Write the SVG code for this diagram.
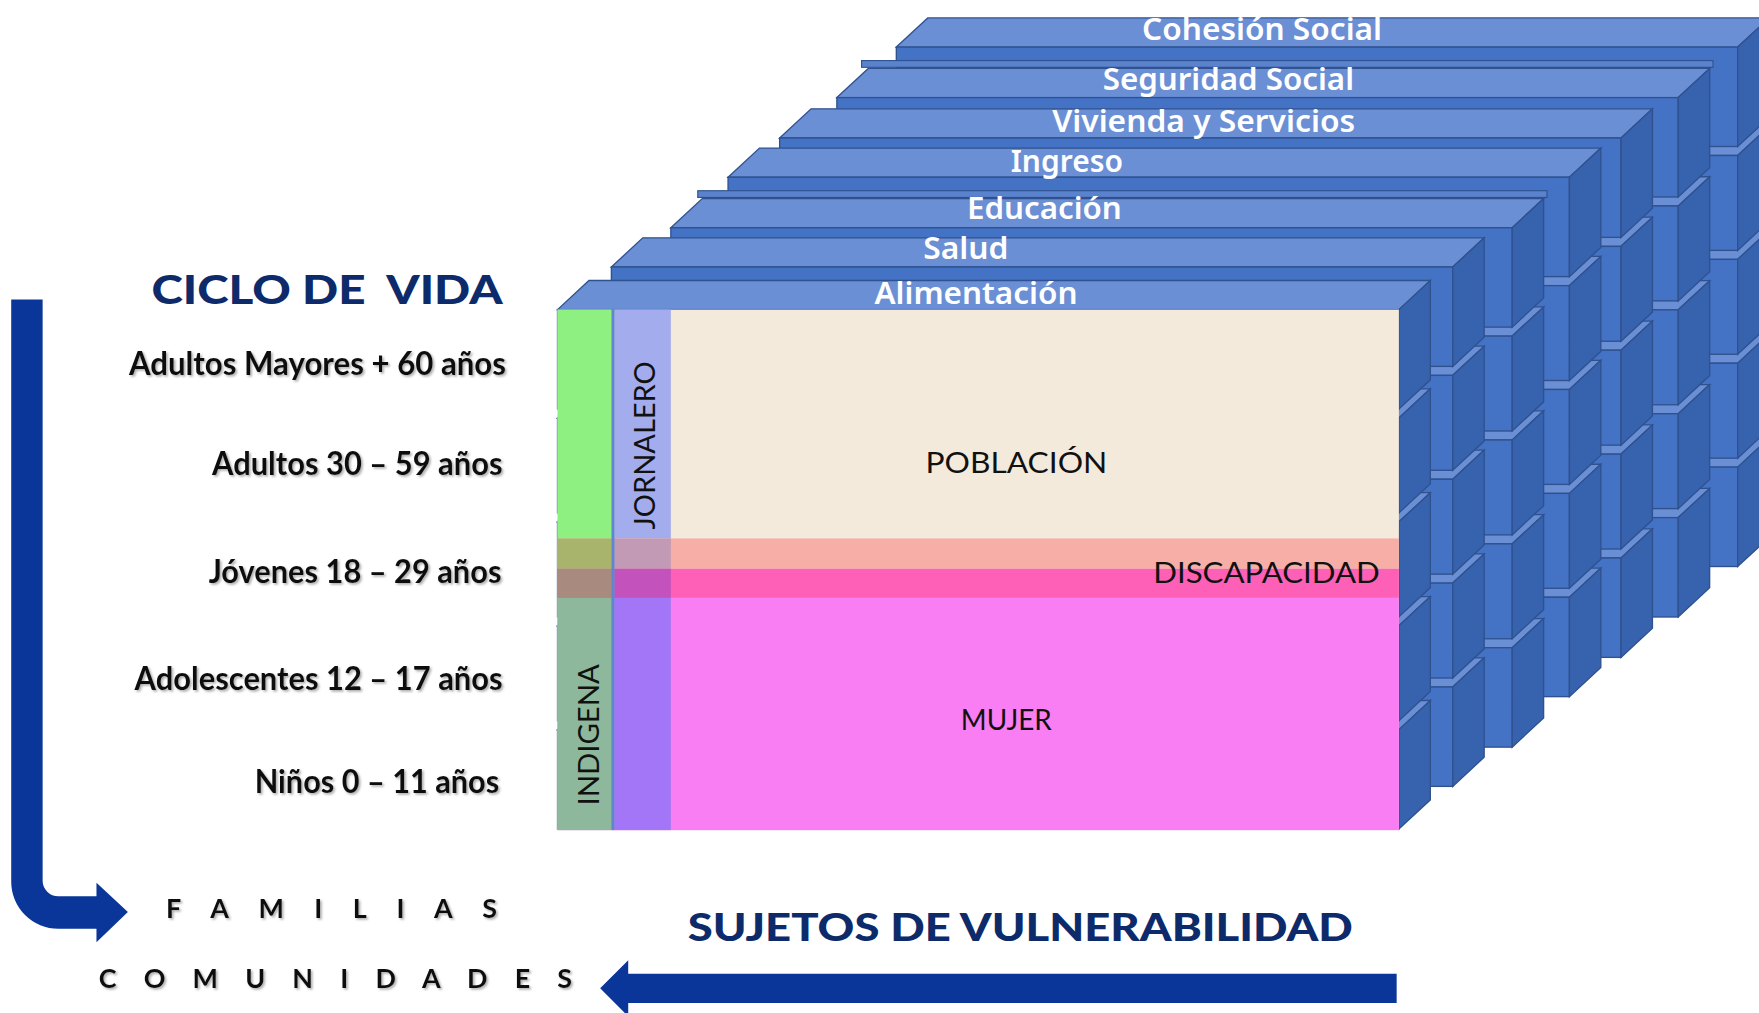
<svg xmlns="http://www.w3.org/2000/svg" width="1759" height="1013" viewBox="0 0 1759 1013">
<style>
.top{fill:#6b8fd4;stroke:#2f528f;stroke-width:1.2}
.front{fill:#4472c4;stroke:#2f528f;stroke-width:1.2}
.side{fill:#3762ad;stroke:#2f528f;stroke-width:1.2}
.ledge{fill:#5b82cc;stroke:#2f528f;stroke-width:1}
.tl{font-family:"Noto Sans","Open Sans",sans-serif;font-weight:600;font-size:28px;fill:#ffffff;text-anchor:middle}
.lbl{font-family:Lato,"Noto Sans",sans-serif;font-weight:700;font-size:29px;fill:#111111;text-anchor:end;filter:url(#sh)}
.face{font-family:Lato,"Noto Sans",sans-serif;font-weight:400;font-size:26px;fill:#111111}
.title{font-family:Lato,"Noto Sans",sans-serif;font-weight:900;fill:#0d2b6b}
.sp{font-family:Lato,"Noto Sans",sans-serif;font-weight:700;font-size:24px;fill:#111111;filter:url(#sh)}
.arrow{fill:#0a3699}
</style>
<defs>
<filter id="sh" x="-5%" y="-20%" width="110%" height="150%">
<feDropShadow dx="1.5" dy="1.5" stdDeviation="1" flood-color="#777777" flood-opacity="0.6"/>
</filter>
<g id="layer">
<polygon class="top" points="0,374.4 28,348.4 778,348.4 750,374.4"/>
<rect class="front" x="0" y="374.4" width="750" height="88.6"/>
<polygon class="side" points="750,374.4 778,348.4 778,437 750,463"/>
<polygon class="top" points="0,281.8 28,255.8 778,255.8 750,281.8"/>
<rect class="front" x="0" y="281.8" width="750" height="84.6"/>
<polygon class="side" points="750,281.8 778,255.8 778,340.4 750,366.4"/>
<polygon class="top" points="0,189.2 28,163.2 778,163.2 750,189.2"/>
<rect class="front" x="0" y="189.2" width="750" height="84.6"/>
<polygon class="side" points="750,189.2 778,163.2 778,247.8 750,273.8"/>
<polygon class="top" points="0,96.6 28,70.6 778,70.6 750,96.6"/>
<rect class="front" x="0" y="96.6" width="750" height="84.6"/>
<polygon class="side" points="750,96.6 778,70.6 778,155.2 750,181.2"/>
<polygon class="top" points="0,0 28,-26 778,-26 750,0"/>
<rect class="front" x="0" y="0" width="750" height="88.6"/>
<polygon class="side" points="750,0 778,-26 778,62.6 750,88.6"/>
</g>
</defs>
<rect x="0" y="0" width="1759" height="1013" fill="#ffffff"/>
<g transform="scale(1.12181)">
<g id="layer-cohesion">
<use href="#layer" x="799" y="42"/>
<text class="tl" x="1125" y="36" textLength="214" lengthAdjust="spacingAndGlyphs">Cohesión Social</text>
</g>
<g id="layer-seguridad">
<rect class="ledge" x="768" y="54" width="759" height="6"/>
<use href="#layer" x="746" y="87"/>
<text class="tl" x="1095" y="80" textLength="224" lengthAdjust="spacingAndGlyphs">Seguridad Social</text>
</g>
<g id="layer-vivienda">
<use href="#layer" x="695" y="123"/>
<text class="tl" x="1073" y="118" textLength="270" lengthAdjust="spacingAndGlyphs">Vivienda y Servicios</text>
</g>
<g id="layer-ingreso">
<use href="#layer" x="649" y="158"/>
<text class="tl" x="951" y="153" textLength="100" lengthAdjust="spacingAndGlyphs">Ingreso</text>
</g>
<g id="layer-educacion">
<rect class="ledge" x="622" y="170" width="757" height="6"/>
<use href="#layer" x="598" y="203"/>
<text class="tl" x="931" y="195" textLength="138" lengthAdjust="spacingAndGlyphs">Educación</text>
</g>
<g id="layer-salud">
<use href="#layer" x="545" y="238"/>
<text class="tl" x="861" y="231" textLength="76" lengthAdjust="spacingAndGlyphs">Salud</text>
</g>
<g id="layer-alimentacion">
<use href="#layer" x="497" y="276"/>
<text class="tl" x="870" y="271" textLength="181" lengthAdjust="spacingAndGlyphs">Alimentación</text>
</g>
<g id="front-face">
<rect x="497" y="276" width="750" height="464" fill="#f4eadb"/>
<rect x="497" y="480" width="750" height="27" fill="#f6aea6"/>
<rect x="497" y="507" width="750" height="26" fill="#fd60b6"/>
<rect x="497" y="533" width="750" height="207" fill="#f97df3"/>
<rect x="497" y="276" width="48" height="204" fill="#8ef081"/>
<rect x="497" y="480" width="48" height="27" fill="#a8b46c"/>
<rect x="497" y="507" width="48" height="26" fill="#a88a7f"/>
<rect x="497" y="533" width="48" height="207" fill="#8db89c"/>
<rect x="545" y="276" width="3" height="464" fill="#5f86d0"/>
<rect x="548" y="276" width="50" height="204" fill="#a3acec"/>
<rect x="548" y="480" width="50" height="27" fill="#c39ab6"/>
<rect x="548" y="507" width="50" height="26" fill="#c452bc"/>
<rect x="548" y="533" width="50" height="207" fill="#a376f7"/>
</g>
<g id="node-poblacion"><text class="face" x="906" y="422" text-anchor="middle" textLength="162" lengthAdjust="spacingAndGlyphs">POBLACIÓN</text></g>
<g id="node-discapacidad"><text class="face" x="1028" y="520" textLength="202" lengthAdjust="spacingAndGlyphs">DISCAPACIDAD</text></g>
<g id="node-mujer"><text class="face" x="897" y="651" text-anchor="middle" textLength="81" lengthAdjust="spacingAndGlyphs">MUJER</text></g>
<g id="node-jornalero"><text class="face" transform="translate(584,397) rotate(-90)" x="0" y="0" text-anchor="middle" textLength="150" lengthAdjust="spacingAndGlyphs">JORNALERO</text></g>
<g id="node-indigena"><text class="face" transform="translate(534,655) rotate(-90)" x="0" y="0" text-anchor="middle" textLength="126" lengthAdjust="spacingAndGlyphs">INDIGENA</text></g>
<g id="node-ciclo">
<text class="title" x="135" y="271" font-size="36" style="white-space:pre" textLength="313" lengthAdjust="spacingAndGlyphs">CICLO DE  VIDA</text>
<text class="lbl" x="451" y="334" textLength="336" lengthAdjust="spacingAndGlyphs">Adultos Mayores + 60 años</text>
<text class="lbl" x="448" y="423" textLength="259" lengthAdjust="spacingAndGlyphs">Adultos 30 – 59 años</text>
<text class="lbl" x="447" y="520" textLength="261" lengthAdjust="spacingAndGlyphs">Jóvenes 18 – 29 años</text>
<text class="lbl" x="448" y="615" textLength="328" lengthAdjust="spacingAndGlyphs">Adolescentes 12 – 17 años</text>
<text class="lbl" x="445" y="707" textLength="218" lengthAdjust="spacingAndGlyphs">Niños 0 – 11 años</text>
</g>
<g id="node-familias"><text class="sp" x="148" y="818" textLength="295" lengthAdjust="spacing">F A M I L I A S</text></g>
<g id="node-comunidades"><text class="sp" x="88" y="881" textLength="422" lengthAdjust="spacing">C O M U N I D A D E S</text></g>
<g id="node-sujetos"><text class="title" x="613" y="839" font-size="33" textLength="593" lengthAdjust="spacingAndGlyphs">SUJETOS DE VULNERABILIDAD</text></g>
<g id="connectors">
<path class="arrow" d="M10,267 H38 V785 A14,14 0 0 0 52,799 H86 V787 L114,813 L86,840 V828 H52 A42,42 0 0 1 10,786 Z"/>
<path class="arrow" d="M1245,868 V894 H560 V906 L535,881 L560,856 V868 Z"/>
</g>
</g>
</svg>
